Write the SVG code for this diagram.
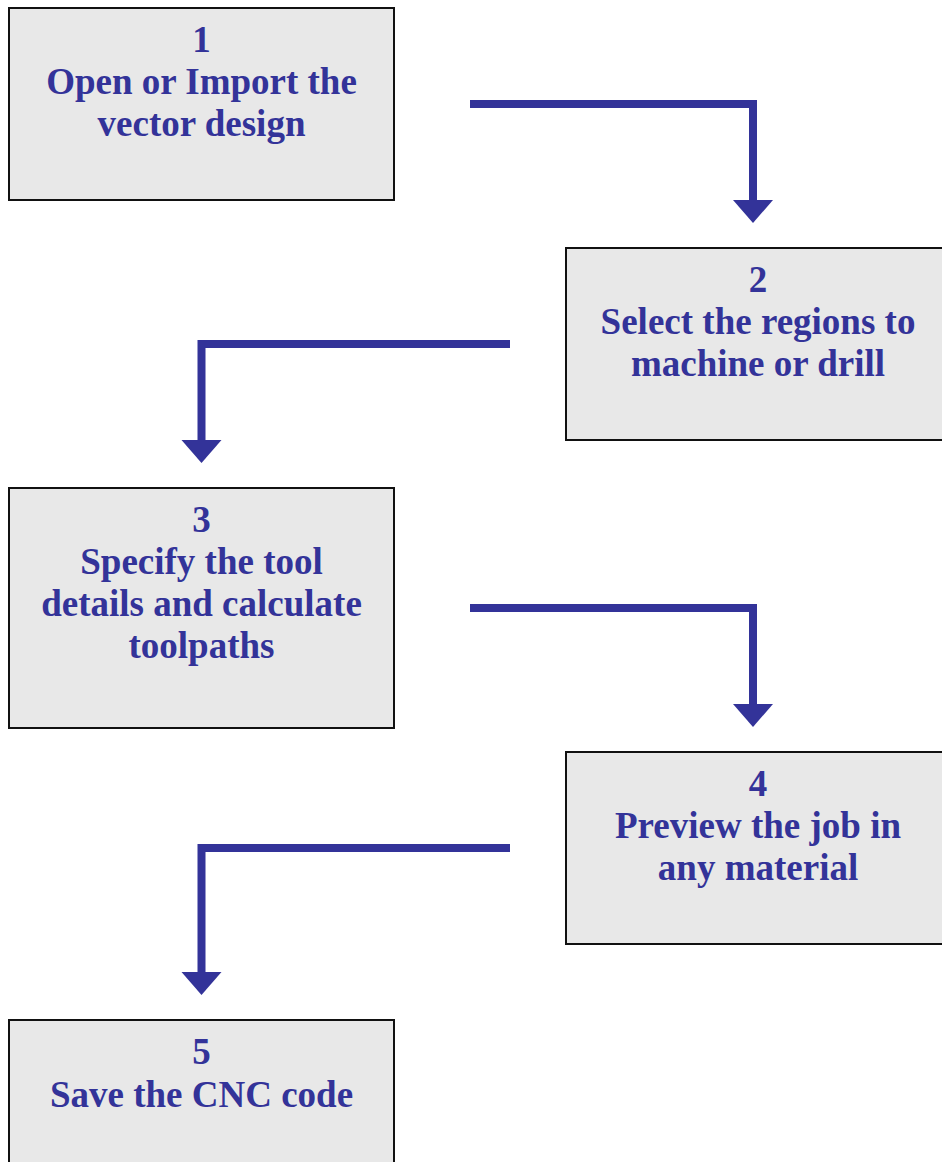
<svg xmlns="http://www.w3.org/2000/svg" width="942" height="1162" viewBox="0 0 942 1162">
<style>
.box{fill:#e8e8e8;stroke:#111;stroke-width:2}
.t{font-family:"Liberation Serif","Times New Roman",serif;font-weight:bold;font-size:37px;fill:#333399;text-anchor:middle}
.ln{fill:none;stroke:#333399;stroke-width:8;stroke-linejoin:miter}
.hd{fill:#333399}
</style>
<rect width="942" height="1162" fill="#fff"/>
<g id="connectors">
<path class="ln" d="M470,104 H753 V201"/>
<polygon class="hd" points="733,200 773,200 753,223"/>
<path class="ln" d="M510,344 H201.5 V441"/>
<polygon class="hd" points="181.5,440 221.5,440 201.5,463"/>
<path class="ln" d="M470,608 H753 V705"/>
<polygon class="hd" points="733,704 773,704 753,727"/>
<path class="ln" d="M510,848 H201.5 V973"/>
<polygon class="hd" points="181.5,972 221.5,972 201.5,995"/>
</g>
<g id="node1">
<rect class="box" x="9" y="8" width="385" height="192"/>
<text class="t" x="201.5" y="52">1</text>
<text class="t" x="201.5" y="94">Open or Import the</text>
<text class="t" x="201.5" y="136">vector design</text>
</g>
<g id="node2">
<rect class="box" x="566" y="248" width="385" height="192"/>
<text class="t" x="758" y="292">2</text>
<text class="t" x="758" y="334">Select the regions to</text>
<text class="t" x="758" y="376">machine or drill</text>
</g>
<g id="node3">
<rect class="box" x="9" y="488" width="385" height="240"/>
<text class="t" x="201.5" y="532">3</text>
<text class="t" x="201.5" y="574">Specify the tool</text>
<text class="t" x="201.5" y="616">details and calculate</text>
<text class="t" x="201.5" y="658">toolpaths</text>
</g>
<g id="node4">
<rect class="box" x="566" y="752" width="385" height="192"/>
<text class="t" x="758" y="796">4</text>
<text class="t" x="758" y="838">Preview the job in</text>
<text class="t" x="758" y="880">any material</text>
</g>
<g id="node5">
<rect class="box" x="9" y="1020" width="385" height="192"/>
<text class="t" x="201.5" y="1064">5</text>
<text class="t" x="201.5" y="1107">Save the CNC code</text>
</g>
</svg>
